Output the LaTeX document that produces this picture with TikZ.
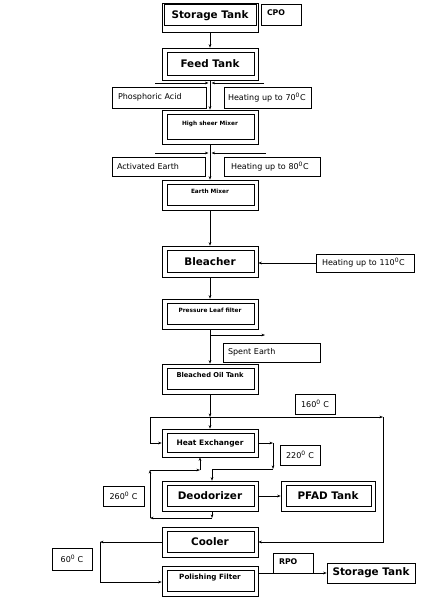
\documentclass[tikz,border=0pt]{standalone}
\usepackage{fontspec}
\setmainfont{DejaVu Sans}
\usetikzlibrary{arrows.meta}
\newcommand{\bigf}{\fontsize{10.4}{12}\bfseries}
\newcommand{\smallf}{\fontsize{5.8}{7}\bfseries}
\newcommand{\regf}{\fontsize{8}{9.5}\selectfont}
\begin{document}
\begin{tikzpicture}[x=1pt,y=-1pt,line width=0.6pt,
  arr/.style={-{Stealth[length=3.5pt,width=2.6pt]}},
  dbox/.style={draw, minimum width=96pt, minimum height=30pt, inner sep=0pt,
    path picture={\draw ([shift={(5pt,-4.5pt)}]path picture bounding box.north west) rectangle ([shift={(-4pt,4.5pt)}]path picture bounding box.south east);}},
  bigbox/.style={dbox, font=\bigf},
  smallbox/.style={dbox, font=\smallf, text height=4.5pt, text depth=8pt},
  lbox/.style={draw, font=\regf, inner xsep=6pt, inner ysep=0pt, align=left, minimum height=20pt},
  tbox/.style={draw, font=\regf, inner sep=0pt, minimum width=40pt, minimum height=20pt},
  sbox/.style={draw, font=\fontsize{7.8}{9}\bfseries, inner xsep=6pt, inner ysep=0pt, text width=28pt, align=left, minimum height=20pt, text height=6pt, text depth=4pt}
]
\useasboundingbox (0,0) rectangle (436,602);
% top storage tank (special inner box)
\node[draw, minimum width=96pt, minimum height=29pt, inner sep=0pt, font=\bigf, text height=8pt, text depth=6pt,
  path picture={\draw ([shift={(2pt,-1.5pt)}]path picture bounding box.north west) rectangle ([shift={(-2pt,7pt)}]path picture bounding box.south east);}]
  (st1) at (210,17.5) {Storage Tank};
\node[sbox, minimum height=21pt] (cpo) at (281,14.5) {CPO};
\node[bigbox, minimum height=32pt] (feed) at (210,64) {Feed Tank};
\node[lbox, text width=82pt, minimum height=21pt] (pa) at (159,97.5) {Phosphoric Acid};
\node[lbox, text width=79pt, inner xsep=4pt, minimum height=21pt] (h70) at (267.5,97.5) {Heating up to 70\textsuperscript{0}C};
\node[smallbox, minimum height=34pt] (hsm) at (210,127) {High sheer Mixer};
\node[lbox, text width=83pt, minimum height=19pt, inner xsep=5pt] (ae) at (158.5,166.5) {Activated Earth};
\node[lbox, text width=82pt, minimum height=19pt, inner xsep=7pt] (h80) at (272,166.5) {Heating up to 80\textsuperscript{0}C};
\node[smallbox] (em) at (210,195) {Earth Mixer};
\node[bigbox, minimum height=31pt] (bl) at (210,261.5) {Bleacher};
\node[lbox, text width=86pt, minimum height=18pt] (h110) at (365,263) {Heating up to 110\textsuperscript{0}C};
\node[smallbox] (plf) at (210,314) {Pressure Leaf filter};
\node[lbox, text width=87pt, minimum height=19pt, inner xsep=5pt] (se) at (271.5,352.5) {Spent Earth};
\node[smallbox, font=\fontsize{6.7}{8}\bfseries] (bot) at (210,379) {Bleached Oil Tank};
\node[tbox] (t160) at (315,404) {160\textsuperscript{0} C};
\node[bigbox, font=\fontsize{7.5}{9}\bfseries, minimum height=28pt] (he) at (210,443) {Heat Exchanger};
\node[tbox] (t220) at (300,455) {220\textsuperscript{0} C};
\node[bigbox] (deo) at (210,496) {Deodorizer};
\node[bigbox, minimum width=94pt] (pfad) at (328,496) {PFAD Tank};
\node[tbox, minimum width=41pt] (t260) at (123.5,496) {260\textsuperscript{0} C};
\node[bigbox] (cool) at (210,542) {Cooler};
\node[tbox, minimum height=22pt] (t60) at (72,559) {60\textsuperscript{0} C};
\node[smallbox, font=\fontsize{7.2}{8.5}\bfseries] (pol) at (210,581) {Polishing Filter};
\node[sbox] (rpo) at (293,563) {RPO};
\node[draw, font=\bigf, inner sep=0pt, minimum width=88pt, minimum height=20pt] (st2) at (371,573) {Storage Tank};
% coordinates
\coordinate (h1l) at (155,83); \coordinate (h1r) at (264,83); \coordinate (h1m) at (210,83);
\coordinate (h2l) at (155,153); \coordinate (h2r) at (266,153); \coordinate (h2m) at (210,153);
\coordinate (se0) at (210,335); \coordinate (se1) at (265,335);
\coordinate (j) at (210,417); \coordinate (jl) at (150,417); \coordinate (jr) at (383,417);
\coordinate (r1) at (273,443); \coordinate (r2) at (273,469); \coordinate (r3) at (212,469);
\coordinate (l1) at (212,518); \coordinate (l2) at (150,518); \coordinate (l3) at (150,470); \coordinate (l4) at (200,470);
\coordinate (c1) at (100,542); \coordinate (c2) at (100,582);
% connectors
\draw[arr] (st1) -- (feed);
\draw[arr] (feed) -- (hsm);
\draw[arr, shorten >=1.5pt] (h1l) -- (h1m);
\draw[arr, shorten >=1.5pt] (h1r) -- (h1m);
\draw[arr] (hsm) -- (em);
\draw[arr, shorten >=1.5pt] (h2l) -- (h2m);
\draw[arr, shorten >=1.5pt] (h2r) -- (h2m);
\draw[arr] (em) -- (bl);
\draw[arr] (h110.west) -- (h110.west -| bl.east);
\draw[arr] (bl) -- (plf);
\draw[arr] (plf) -- (bot);
\draw[arr] (se0) -- (se1);
\draw[arr] (bot) -- (j);
\draw[arr] (j) -- (he);
\draw[arr] (j) -- (jl) |- (he.west);
\draw[arr] (j) -- (jr);
\draw[arr] (jr) |- (cool.east);
\draw[arr] (he.east) -- (r1);
\draw[arr] (r1) -- (r2);
\draw (r2) -- (r3);
\draw[arr] (r3) -- (r3 |- deo.north);
\draw[arr] (deo.south -| l1) -- (l1);
\draw[arr] (l1) -- (l2);
\draw[arr] (l2) -- (l3);
\draw[arr] (l3) -- (l4);
\draw[arr] (l4) -- (l4 |- he.south);
\draw[arr] (deo) -- (pfad);
\draw[arr] (cool.west) -- (c1);
\draw (c1) -- (c2);
\draw[arr] (c2) -- (c2 -| pol.west);
\draw[arr] (st2.west -| pol.east) -- (st2.west);
\end{tikzpicture}
\end{document}
